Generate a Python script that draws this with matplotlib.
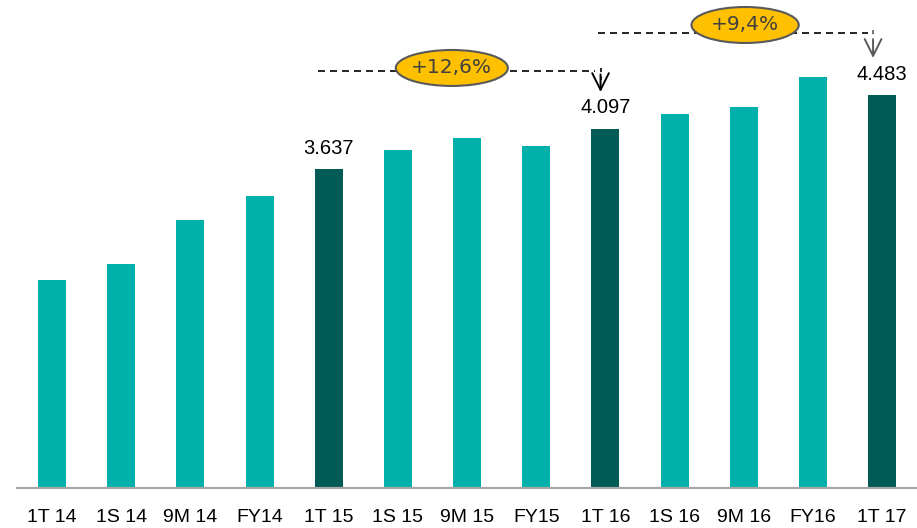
import matplotlib
matplotlib.use("Agg")
import matplotlib.pyplot as plt
from matplotlib.patches import Ellipse

# Periods and values (thousands)
periods = ["1T 14", "1S 14", "9M 14", "FY14", "1T 15", "1S 15", "9M 15",
           "FY15", "1T 16", "1S 16", "9M 16", "FY16", "1T 17"]
values = [2.372, 2.551, 3.056, 3.330, 3.637, 3.850, 3.987,
          3.896, 4.097, 4.261, 4.348, 4.686, 4.483]
highlight = [4, 8, 12]          # first-quarter bars compared year over year
labelled = {4: "3.637", 8: "4.097", 12: "4.483"}
growth = [("+12,6%", 4, 8), ("+9,4%", 8, 12)]

TEAL = "#00B0AA"
DARK = "#005A55"
GOLD = "#FFC000"

fig = plt.figure(figsize=(9.17, 5.28), dpi=100)
ax = fig.add_axes([17 / 917, 40 / 528, 900 / 917, 488 / 528])

x = list(range(len(periods)))
colors = [DARK if i in highlight else TEAL for i in x]
ax.bar(x, values, width=0.405, color=colors, zorder=2)

ax.set_xlim(-0.506, 12.505)
ax.set_ylim(0, 5.564)

for s in ["top", "right", "left"]:
    ax.spines[s].set_visible(False)
ax.spines["bottom"].set_color("#A6A6A6")
ax.spines["bottom"].set_linewidth(1.6)
ax.set_yticks([])
ax.set_xticks(x)
ax.set_xticklabels(periods, fontsize=14, family="Liberation Sans")
ax.tick_params(axis="x", length=0, pad=15)

for i, txt in labelled.items():
    ax.annotate(txt, (i, values[i]), xytext=(0, 11), textcoords="offset points",
                ha="center", va="baseline", fontsize=14.5,
                family="Liberation Sans", color="black")

# growth annotations: dashed bracket, badge and arrow
line_y = [4.758, 5.188]
badge_y = [4.789, 5.279]
starts = [3.85, 7.89]
ends = [7.93, 11.87]
badge_x = [5.78, 10.02]
badge_w = [1.62, 1.55]
arrow_tip = [4.515, 4.903]
arrow_col = ["black", "#595959"]
for k, (txt, a, b) in enumerate(growth):
    ax.plot([starts[k], ends[k] - 0.08], [line_y[k]] * 2, color="black",
            lw=1.2, dashes=(4.2, 3.0), zorder=3)
    ax.add_patch(Ellipse((badge_x[k], badge_y[k]), badge_w[k], 0.41,
                         facecolor=GOLD, edgecolor="#595959", lw=1.5, zorder=4))
    ax.text(badge_x[k], badge_y[k], txt, ha="center", va="center",
            fontsize=14.5, color="#404040", family="DejaVu Sans", zorder=5)
    ax.plot([ends[k], ends[k]], [line_y[k] + 0.03, arrow_tip[k] + 0.14],
            color=arrow_col[k], lw=1.2, dashes=(2.5, 2.5), zorder=3)
    ax.annotate("", xy=(ends[k], arrow_tip[k]), xytext=(ends[k], arrow_tip[k] + 0.2),
                arrowprops=dict(arrowstyle="->,head_length=1.2,head_width=0.6",
                                color=arrow_col[k], lw=1.4, shrinkA=0, shrinkB=0),
                zorder=3)

fig.savefig("out.png", dpi=100)
